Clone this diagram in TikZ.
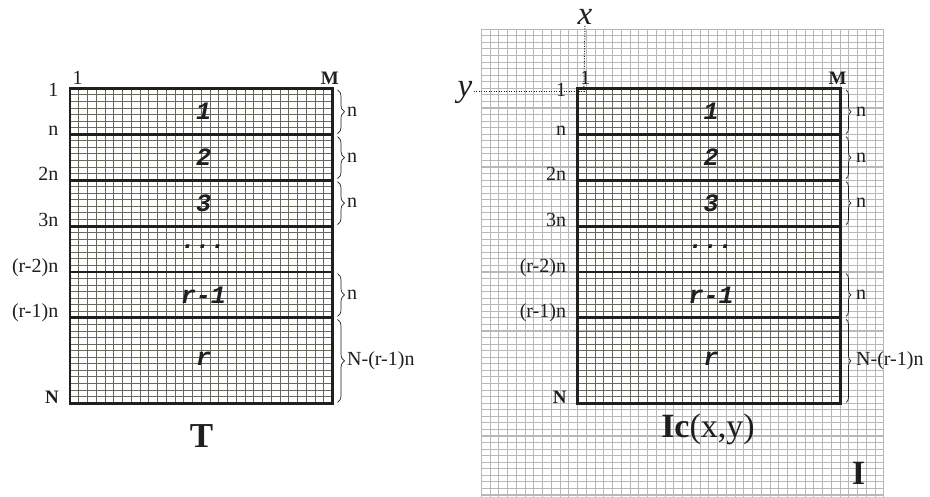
\documentclass[tikz,border=0pt]{standalone}
\usepackage{fontspec}
\setmainfont{Liberation Serif}
\newfontfamily\blockfont{Liberation Mono}
\usetikzlibrary{decorations.pathreplacing}
\definecolor{gridDark}{RGB}{104,104,92}
\definecolor{gridLight}{RGB}{184,184,184}
\definecolor{ink}{RGB}{32,30,30}
\begin{document}
\begin{tikzpicture}[x=1pt,y=-1pt,
  finegrid/.style={line width=0.95pt, draw=gridDark},
  lightgrid/.style={line width=1.05pt, draw=gridLight},
  heavy/.style={line width=2.9pt, draw=ink},
  curly/.style={decorate, decoration={brace, amplitude=#1}, line width=0.7pt, draw=ink},
  lbl/.style={font=\fontsize{20}{20}\selectfont, inner sep=0pt, text=ink},
  lblb/.style={font=\fontsize{19}{19}\selectfont\bfseries, inner sep=0pt, text=ink},
  blk/.style={font=\fontsize{25}{25}\selectfont\blockfont\bfseries\itshape, inner sep=0pt, text=ink},
  big/.style={font=\fontsize{34}{34}\selectfont, inner sep=0pt, text=ink},
  axis/.style={font=\fontsize{33}{33}\selectfont\itshape, inner sep=1pt, text=ink},
  dotline/.style={line width=1pt, draw=ink, dash pattern=on 1pt off 1.5pt}
]
\useasboundingbox (0,0) rectangle (930,497);
\fill[white] (0,0) rectangle (930,497);

% background grid of image I
\begin{scope}
  \clip (0,0) rectangle (930,497);
  \begin{scope}[shift={(577.7,88.3)}]
    \foreach \i in {-11,...,35}
      \draw[lightgrid] (\i*8.75,-59.04) -- (\i*8.75,420);
    \foreach \j in {-9,...,63}
      \draw[lightgrid] (-96.25,\j*6.56) -- (306.25,\j*6.56);
  \end{scope}
\end{scope}

% the two partitioned blocks T and Ic
\foreach \ox/\nm/\bx/\amp/\lx in {70/T/337.5/7pt/347, 577.7/Ic/846/5pt/856} {
  \begin{scope}[shift={(\ox,88.3)}]
    \foreach \i in {1,...,29}
      \draw[finegrid] (\i*8.75,0) -- (\i*8.75,314.9);
    \foreach \j in {1,...,47}
      \draw[finegrid] (0,\j*6.56) -- (262.5,\j*6.56);
    \foreach \j in {7,14,21,28,35}
      \draw[heavy] (0,\j*6.56) -- (262.5,\j*6.56);
    \draw[heavy] (0,0) rectangle (262.5,314.9);
    % block labels
    \node[blk] (\nm-b1) at (133.5,23) {1};
    \node[blk] (\nm-b2) at (133.5,69) {2};
    \node[blk] (\nm-b3) at (133.5,115) {3};
    \node[blk] (\nm-b4) at (133.5,158) {...};
    \node[blk] (\nm-b5) at (133.5,206.6) {r-1};
    \node[blk] (\nm-b6) at (133.5,270) {r};
    % row labels
    \node[lbl, anchor=base east] (\nm-r1) at (-11.5,8.5) {1};
    \node[lbl, anchor=base east] (\nm-r2) at (-11.5,47.2) {n};
    \node[lbl, anchor=base east] (\nm-r3) at (-11.5,92.2) {2n};
    \node[lbl, anchor=base east] (\nm-r4) at (-11.5,138.2) {3n};
    \node[lbl, anchor=base east] (\nm-r5) at (-11.5,184.5) {(r-2)n};
    \node[lbl, anchor=base east] (\nm-r6) at (-11.5,229.5) {(r-1)n};
    \node[lblb, anchor=base east] (\nm-rN) at (-11,315) {N};
    % column labels
    \node[lbl, anchor=base west] (\nm-c1) at (2.5,-3.5) {1};
    \node[lblb, anchor=base east] (\nm-cM) at (269,-3.8) {M};
  \end{scope}
  % braces
  \foreach \a/\b/\t in {89.8/133.7/n, 136.7/178.6/n, 181.6/224.6/n, 273.5/316.4/n} {
    \draw[curly=\amp] (\bx,\a) -- (\bx,\b);
    \node[lbl, anchor=west] at (\lx,{(\a+\b)/2}) {\t};
  }
  \draw[curly=\amp] (\bx,319.4) -- (\bx,402.5);
  \node[lbl, anchor=west] (\nm-last) at (\lx,360.5) {N-(r-1)n};
}

% titles
\node[big, font=\fontsize{35}{35}\selectfont\bfseries, anchor=base] (title-T) at (201.5,447) {T};
\node[big, anchor=base] (title-Ic) at (708,437) {\textbf{Ic}(x,y)};
\node[big, font=\fontsize{34}{34}\selectfont\bfseries, anchor=base] (title-I) at (858.5,484) {I};

% coordinate axes
\coordinate (c11) at (583.8,91.7);
\node[axis] (xlab) at (585,17) {x};
\node[axis] (ylab) at (465,92) {y};
\draw[dotline] (xlab.south) -- (c11);
\draw[dotline] (ylab.east |- c11) -- (c11);
\end{tikzpicture}
\end{document}
